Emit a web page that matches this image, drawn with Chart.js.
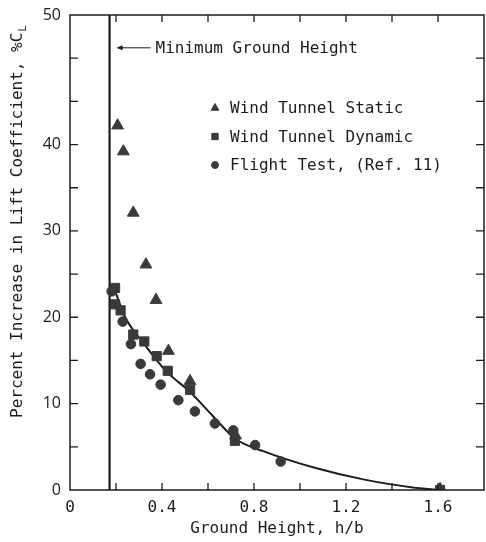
<!DOCTYPE html>
<html>
<head>
<meta charset="utf-8">
<script src="https://cdn.jsdelivr.net/npm/chart.js@4.4.1/dist/chart.umd.min.js"></script>
<style>
  html, body { margin: 0; padding: 0; background: #fff; }
  canvas { display: block; }
</style>
</head>
<body>
<canvas id="ground-effect" width="486" height="542"></canvas>
<script>
// lift increase near the ground, h/b vs %CL
const staticX = [0.207, 0.232, 0.275, 0.330, 0.374, 0.428, 0.522, 0.720, 1.609]
const staticY = [42.2, 39.2, 32.1, 26.1, 22.0, 16.1, 12.6, 6.3, 0.1]

const dynamicX = [0.196, 0.196, 0.220, 0.275, 0.323, 0.377, 0.425, 0.522, 0.717, 1.609]
const dynamicY = [23.4, 21.5, 20.8, 18.0, 17.2, 15.5, 13.8, 11.6, 5.7, 0]

const flightX = [0.181, 0.229, 0.265, 0.307, 0.348, 0.394, 0.471, 0.543, 0.630, 0.710, 0.805, 0.916, 1.609]
const flightY = [23.0, 19.5, 16.9, 14.6, 13.4, 12.2, 10.4, 9.1, 7.7, 6.9, 5.2, 3.3, 0]

// faired curve through the dynamic points
const fairX = [0.19, 0.24, 0.32, 0.42, 0.52, 0.62, 0.72, 0.84, 1.06, 1.28, 1.49, 1.61]
const fairY = [23.5, 20.0, 17.0, 13.7, 11.4, 8.6, 5.9, 4.5, 2.6, 1.2, 0.3, 0]

const minHeight = 0.172

const xLabelValues = [0, 0.4, 0.8, 1.2, 1.6]
const xLabelText = ['0', '0.4', '0.8', '1.2', '1.6']
// top of the scale is printed as 50
const yLabelValues = [0, 10, 20, 30, 40, 55]
const yLabelText = ['0', '10', '20', '30', '40', '50']

const ink = '#1c1c1c'
const markColor = '#3a3a3a'
const mono = "'DejaVu Sans Mono', monospace"

function pts(xs, ys) {
    return xs.map((x, i) => ({ x: x, y: ys[i] }))
}

function labelFor(values, texts, v) {
    const i = values.findIndex(a => Math.abs(a - v) < 1e-6)
    return i < 0 ? '' : texts[i]
}

// box, inward ticks, y title, note and key
const decorations = {
    id: 'decorations',
    afterDatasetsDraw(chart) {
        const ctx = chart.ctx
        const a = chart.chartArea
        const x = chart.scales.x
        const y = chart.scales.y
        ctx.save()
        ctx.strokeStyle = ink
        ctx.lineWidth = 1.5
        ctx.strokeRect(a.left, a.top, a.right - a.left, a.bottom - a.top)

        ctx.lineWidth = 1.3
        ctx.beginPath()
        x.ticks.forEach(t => {
            if (t.value <= x.min + 1e-6 || t.value >= x.max - 1e-6) return
            const px = x.getPixelForValue(t.value)
            ctx.moveTo(px, a.bottom); ctx.lineTo(px, a.bottom - 7)
            ctx.moveTo(px, a.top); ctx.lineTo(px, a.top + 7)
        })
        y.ticks.forEach(t => {
            if (t.value <= y.min + 1e-6 || t.value >= y.max - 1e-6) return
            const py = y.getPixelForValue(t.value)
            ctx.moveTo(a.left, py); ctx.lineTo(a.left + 8, py)
            ctx.moveTo(a.right, py); ctx.lineTo(a.right - 8, py)
        })
        ctx.stroke()

        ctx.fillStyle = ink

        // y axis title with subscript L
        ctx.save()
        ctx.translate(18, a.bottom - 72)
        ctx.rotate(-Math.PI / 2)
        ctx.font = '16px ' + mono
        ctx.textAlign = 'left'
        ctx.textBaseline = 'middle'
        const main = 'Percent Increase in Lift Coefficient, %C'
        ctx.fillText(main, 0, 0)
        const w = ctx.measureText(main).width
        ctx.font = '11px ' + mono
        ctx.fillText('L', w + 1, 5)
        ctx.restore()

        // minimum ground height note
        const lx = x.getPixelForValue(minHeight)
        const ly = y.getPixelForValue(51.2)
        ctx.lineWidth = 1
        ctx.beginPath()
        ctx.moveTo(lx + 41, ly); ctx.lineTo(lx + 8, ly)
        ctx.stroke()
        ctx.beginPath()
        ctx.moveTo(lx + 7, ly)
        ctx.lineTo(lx + 13, ly - 2.5)
        ctx.lineTo(lx + 13, ly + 2.5)
        ctx.closePath()
        ctx.fill()
        ctx.font = '16px ' + mono
        ctx.textBaseline = 'middle'
        ctx.fillText('Minimum Ground Height', lx + 46, ly + 1)

        // key
        const keyRows = [0, 1, 2]
        keyRows.forEach(i => {
            const ds = chart.data.datasets[i]
            const ky = a.top + 93 + i * 28.5
            ctx.fillStyle = markColor
            ctx.strokeStyle = markColor
            Chart.helpers.drawPoint(ctx, {
                pointStyle: ds.pointStyle,
                radius: ds.pointStyle === 'circle' ? 3.5 : 4.5,
                rotation: 0,
                borderWidth: 1
            }, a.left + 145, ky)
            ctx.fillStyle = ink
            ctx.fillText(ds.label, a.left + 160, ky + 1)
        })
        ctx.restore()
    }
}

const data = {
    datasets: [{
        type: 'scatter',
        label: 'Wind Tunnel Static',
        data: pts(staticX, staticY),
        pointStyle: 'triangle',
        pointRadius: 6.8,
        backgroundColor: markColor,
        borderColor: markColor,
        borderWidth: 1
    }, {
        type: 'scatter',
        label: 'Wind Tunnel Dynamic',
        data: pts(dynamicX, dynamicY),
        pointStyle: 'rect',
        pointRadius: 6.5,
        backgroundColor: markColor,
        borderColor: markColor,
        borderWidth: 1
    }, {
        type: 'scatter',
        label: 'Flight Test, (Ref. 11)',
        data: pts(flightX, flightY),
        pointStyle: 'circle',
        pointRadius: 4.8,
        backgroundColor: markColor,
        borderColor: markColor,
        borderWidth: 1
    }, {
        type: 'line',
        label: 'fairing',
        data: pts(fairX, fairY),
        borderColor: ink,
        borderWidth: 2,
        pointRadius: 0,
        cubicInterpolationMode: 'monotone',
        fill: false
    }, {
        type: 'line',
        label: 'minimum',
        data: pts([minHeight, minHeight], [0, 55]),
        borderColor: ink,
        borderWidth: 2.2,
        pointRadius: 0,
        fill: false
    }]
}

const config = {
    type: 'scatter',
    data: data,
    plugins: [decorations],
    options: {
        responsive: false,
        animation: false,
        layout: {
            autoPadding: false,
            padding: { top: 15, right: 2, left: 0, bottom: 0 }
        },
        plugins: {
            legend: { display: false },
            tooltip: { enabled: false }
        },
        scales: {
            x: {
                type: 'linear',
                min: 0,
                max: 1.8,
                afterFit: s => {
                    s.height = 52
                    s.paddingLeft = 0
                    s.paddingRight = 0
                },
                border: { display: false },
                grid: { display: false, drawTicks: false },
                ticks: {
                    stepSize: 0.2,
                    padding: 8,
                    autoSkip: false,
                    maxRotation: 0,
                    color: ink,
                    font: { family: mono, size: 16 },
                    callback: v => labelFor(xLabelValues, xLabelText, v)
                },
                title: {
                    display: true,
                    text: 'Ground Height, h/b',
                    color: ink,
                    font: { family: mono, size: 16 },
                    padding: { top: 0, bottom: 4 }
                }
            },
            y: {
                type: 'linear',
                min: 0,
                max: 55,
                afterFit: s => {
                    s.width = 70
                    s.paddingTop = 0
                    s.paddingBottom = 0
                },
                border: { display: false },
                grid: { display: false, drawTicks: false },
                ticks: {
                    stepSize: 5,
                    padding: 9,
                    autoSkip: false,
                    color: ink,
                    font: { family: "'Open Sans', sans-serif", size: 16 },
                    callback: v => labelFor(yLabelValues, yLabelText, v)
                }
            }
        }
    }
}

const groundChart = new Chart(
    document.getElementById('ground-effect').getContext('2d'),
    config
)
</script>
</body>
</html>
